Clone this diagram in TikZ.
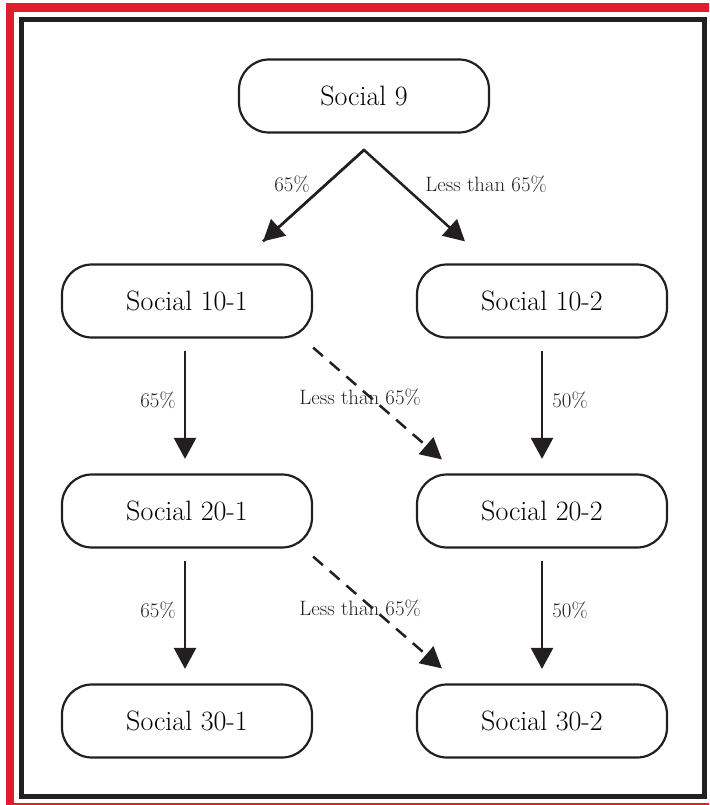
\documentclass[tikz,border=0pt]{standalone}
\usepackage{fontspec}
\usepackage{tikz}
\usetikzlibrary{arrows.meta}
\definecolor{frameRed}{RGB}{221,30,47}
\definecolor{frameBlack}{RGB}{35,31,32}

\begin{document}
\begin{tikzpicture}[x=1pt,y=-1pt,
    course/.style={draw=frameBlack, line width=2.2pt, rounded corners=30pt,
        minimum width=250pt, minimum height=73pt, inner sep=0pt,
        font=\fontsize{28}{32}\selectfont},
    pct/.style={font=\fontsize{20.8}{24}\selectfont, text=frameBlack, inner sep=1pt},
    arr/.style={draw=frameBlack, line width=2.5pt, -{Triangle[width=22pt,length=21pt]}},
    darr/.style={arr, dash pattern=on 13pt off 9pt}]
    \useasboundingbox (0,0) rectangle (709,805);
    \clip (0,0) rectangle (709,805);
    % frames
    \draw[frameRed, line width=8.5pt] (10,7.5) rectangle (716,807.5);
    \draw[frameBlack, line width=5.5pt] (21.5,19.5) rectangle (704.5,796.5);
    % courses
    \node[course] (s9) at (364,96) {Social 9};
    \node[course] (s101) at (187,301) {Social 10-1};
    \node[course] (s102) at (542,301) {Social 10-2};
    \node[course] (s201) at (187,511) {Social 20-1};
    \node[course] (s202) at (542,511) {Social 20-2};
    \node[course] (s301) at (187,721) {Social 30-1};
    \node[course] (s302) at (542,721) {Social 30-2};
    \coordinate (split) at (364,150);
    % percentages
    \node[pct] (l1) at (292,184) {65\%};
    \node[pct] (l2) at (486,184) {Less than 65\%};
    \node[pct] (l3) at (158,400) {65\%};
    \node[pct] (l4) at (360,397) {Less than 65\%};
    \node[pct] (l5) at (570,400) {50\%};
    \node[pct] (l6) at (158,610) {65\%};
    \node[pct] (l7) at (360,608) {Less than 65\%};
    \node[pct] (l8) at (570,610) {50\%};
    % arrows
    \draw[arr, line join=miter] ([xshift=76pt,yshift=22pt]s101.north) -- (split)
        -- ([xshift=-77pt,yshift=22pt]s102.north);
    \draw[arr] (split) -- ([xshift=76pt,yshift=22pt]s101.north);
    \draw[arr] ([xshift=-2pt]s101.south) ++(0,12.5) -- ([xshift=-2pt,yshift=14.5pt]s201.north);
    \draw[arr] (s102.south) ++(0,12.5) -- ([yshift=14.5pt]s202.north);
    \draw[arr] ([xshift=-2pt]s201.south) ++(0,12.5) -- ([xshift=-2pt,yshift=14.5pt]s301.north);
    \draw[arr] (s202.south) ++(0,12.5) -- ([yshift=14.5pt]s302.north);
    \draw[darr] ([yshift=-9pt]s101.south east) -- ([xshift=26pt,yshift=14pt]s202.north west);
    \draw[darr] ([yshift=-8pt]s201.south east) -- ([xshift=26pt,yshift=15pt]s302.north west);
\end{tikzpicture}
\end{document}
